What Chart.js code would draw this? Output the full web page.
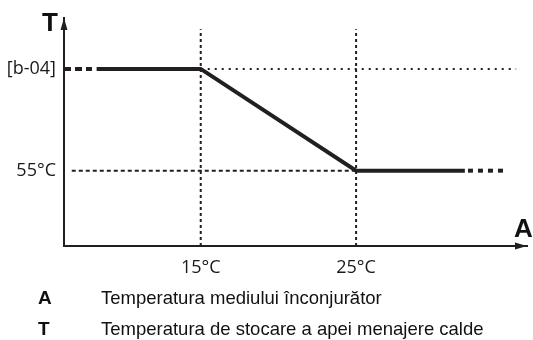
<!DOCTYPE html>
<html>
<head>
<meta charset="utf-8">
<script src="https://cdn.jsdelivr.net/npm/chart.js@4/dist/chart.umd.min.js"></script>
<style>
  html, body { margin: 0; padding: 0; background: #fff; }
  canvas { display: block; }
</style>
</head>
<body>
<canvas id="curve" width="533" height="340"></canvas>
<script>
// curba: temperatura de stocare ACM in functie de temperatura exterioara
const ambientTemps = [8.3, 15, 25, 32];
const storageTemps = [60, 60, 55, 55];
const leftTailA = [6.2, 8.0];
const leftTailT = [60, 60];
const rightTailA = [32.2, 34.6];
const rightTailT = [55, 55];

const xTickValues = [15, 25];
const xTickLabels = ['15°C', '25°C'];
const yTickValues = [55, 60];
const yTickLabels = ['55°C', '[b-04]'];

// linii ajutatoare
const guideTop = 61.95;
const lowGuideStart = 6.7;
const highGuideEnd = 35.3;

const legendKeys = ['A', 'T'];
const legendTexts = [
  'Temperatura mediului înconjurător',
  'Temperatura de stocare a apei menajere calde'
];

const xRange = [6.2, 36];
const yRange = [51.3, 62.5];

const INK = '#231f20';

function toPoints(xs, ys) {
  return xs.map((x, i) => ({ x: x, y: ys[i] }));
}

function guide(points, dash) {
  return {
    data: points,
    borderColor: INK,
    borderWidth: 2,
    borderDash: dash,
    pointRadius: 0,
    fill: false
  };
}

const datasets = [
  ...xTickValues.map(v => guide([{ x: v, y: yRange[0] }, { x: v, y: guideTop }], [3, 3])),
  guide([{ x: lowGuideStart, y: yTickValues[0] }, { x: xTickValues[1], y: yTickValues[0] }], [4, 3]),
  guide([{ x: xTickValues[0], y: yTickValues[1] }, { x: highGuideEnd, y: yTickValues[1] }], [2, 5]),
  {
    data: toPoints(leftTailA, leftTailT),
    borderColor: INK, borderWidth: 4, borderDash: [7, 4],
    pointRadius: 0, fill: false
  },
  {
    data: toPoints(rightTailA, rightTailT),
    borderColor: INK, borderWidth: 4, borderDash: [5, 5],
    pointRadius: 0, fill: false
  },
  {
    data: toPoints(ambientTemps, storageTemps),
    borderColor: INK, borderWidth: 4,
    pointRadius: 0, fill: false, tension: 0
  }
];

const arrowsAndText = {
  id: 'arrowsAndText',
  afterDraw(chart) {
    const { ctx, chartArea } = chart;
    const x0 = chartArea.left, y0 = chartArea.bottom;
    ctx.save();
    ctx.fillStyle = INK;
    // sageata axa Y
    ctx.beginPath();
    ctx.moveTo(x0, chartArea.top);
    ctx.lineTo(x0 - 3.5, chartArea.top + 12);
    ctx.lineTo(x0 + 3.5, chartArea.top + 12);
    ctx.closePath();
    ctx.fill();
    // sageata axa X
    ctx.beginPath();
    ctx.moveTo(chartArea.right, y0);
    ctx.lineTo(chartArea.right - 12, y0 - 3.5);
    ctx.lineTo(chartArea.right - 12, y0 + 3.5);
    ctx.closePath();
    ctx.fill();

    ctx.fillStyle = '#111';
    ctx.textBaseline = 'alphabetic';
    ctx.textAlign = 'center';
    ctx.font = 'bold 26px "Liberation Sans", Arial, sans-serif';
    ctx.fillText('T', x0 - 14, chartArea.top + 13);
    ctx.fillText('A', chartArea.right - 3.5, y0 - 9);

    // legenda
    ctx.textAlign = 'left';
    legendKeys.forEach((k, i) => {
      const y = 304 + i * 31;
      ctx.font = 'bold 19px "Liberation Sans", Arial, sans-serif';
      ctx.fillText(k, 38, y);
      ctx.font = '18.5px "Liberation Sans", Arial, sans-serif';
      ctx.fillText(legendTexts[i], 101, y);
    });
    ctx.restore();
  }
};

new Chart(document.getElementById('curve'), {
  type: 'line',
  data: { datasets: datasets },
  options: {
    responsive: false,
    animation: false,
    events: [],
    layout: { padding: { top: 18, right: 6, left: 0, bottom: 0 } },
    plugins: { legend: { display: false }, tooltip: { enabled: false } },
    scales: {
      x: {
        type: 'linear',
        min: xRange[0],
        max: xRange[1],
        grid: { display: false },
        border: { display: true, color: INK, width: 2 },
        afterBuildTicks(scale) { scale.ticks = xTickValues.map(v => ({ value: v })); },
        afterFit(scale) { scale.height = 94; },
        ticks: {
          autoSkip: false,
          maxRotation: 0,
          padding: 3,
          color: '#1a1a1a',
          font: { family: '"Open Sans", sans-serif', size: 18 },
          callback: v => xTickLabels[xTickValues.indexOf(v)]
        }
      },
      y: {
        type: 'linear',
        min: yRange[0],
        max: yRange[1],
        grid: { display: false },
        border: { display: true, color: INK, width: 2 },
        afterBuildTicks(scale) { scale.ticks = yTickValues.map(v => ({ value: v })); },
        afterFit(scale) { scale.width = 64; },
        ticks: {
          autoSkip: false,
          padding: 0,
          color: '#1a1a1a',
          font: { family: '"Open Sans", sans-serif', size: 18 },
          callback: v => yTickLabels[yTickValues.indexOf(v)]
        }
      }
    }
  },
  plugins: [arrowsAndText]
});
</script>
</body>
</html>
